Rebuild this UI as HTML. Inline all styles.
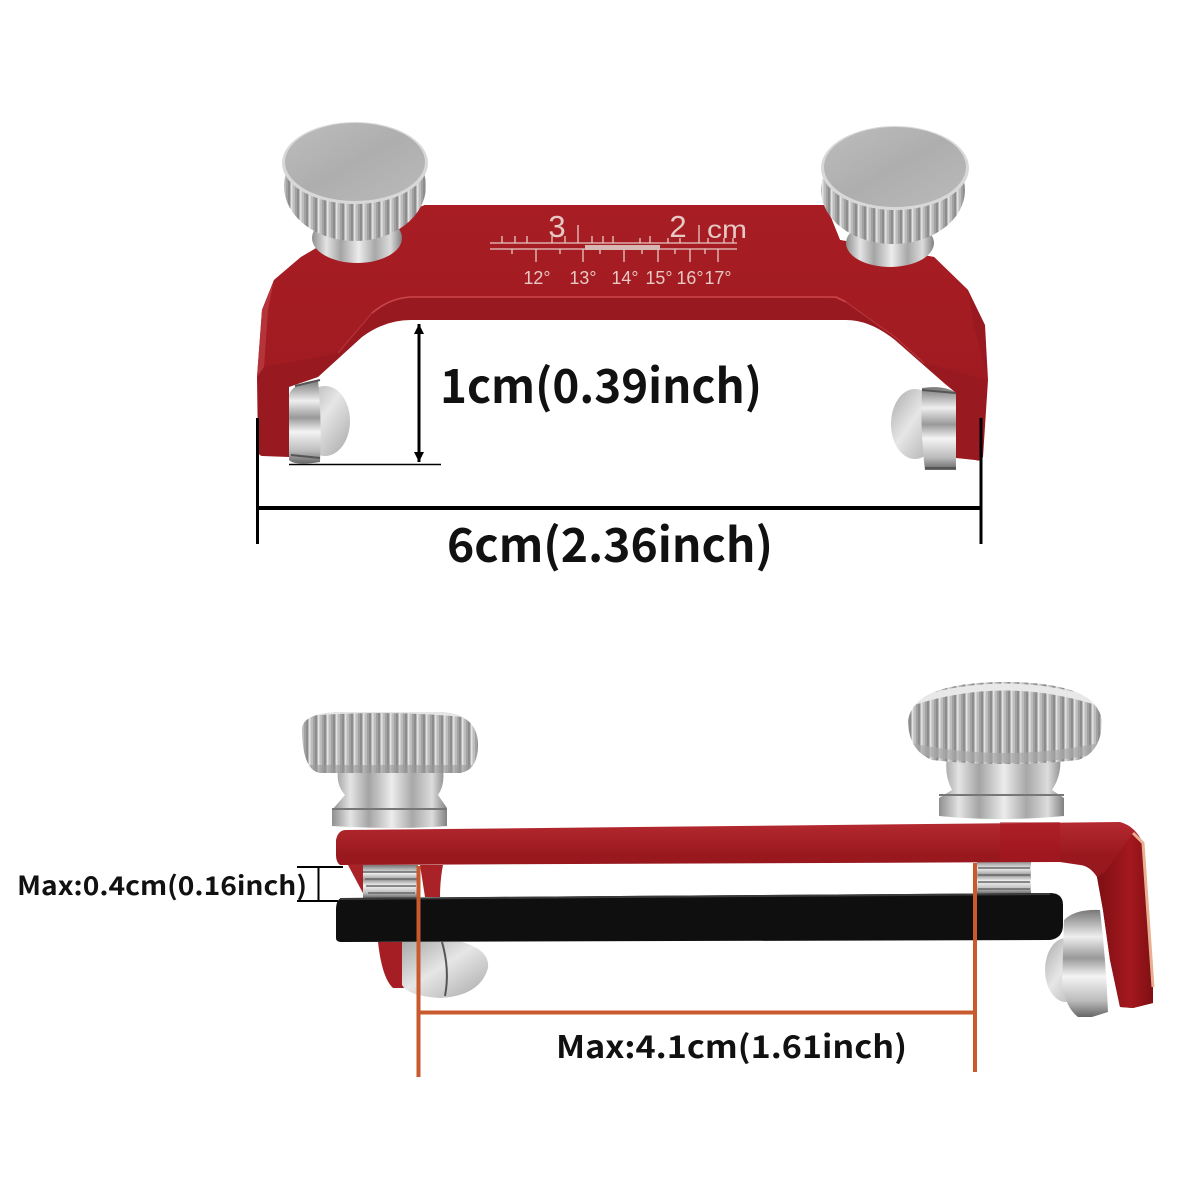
<!DOCTYPE html>
<html lang="en"><head><meta charset="utf-8"><title>Dimension diagram</title>
<style>html,body{margin:0;padding:0;background:#fff}svg{display:block}
.l{font-family:"Noto Sans CJK JP","Liberation Sans",sans-serif;font-weight:700;fill:#111}
.s{font-family:"Liberation Sans",sans-serif;fill:#e6c9c4}</style></head><body>
<svg xmlns="http://www.w3.org/2000/svg" width="1200" height="1200" viewBox="0 0 1200 1200">
<defs>
<linearGradient id="m1" x1="0" x2="1" y1="0" y2="0"><stop offset="0" stop-color="#8f8f8f"/><stop offset=".16" stop-color="#e4e4e4"/><stop offset=".32" stop-color="#a4a4a4"/><stop offset=".52" stop-color="#ececec"/><stop offset=".7" stop-color="#a8a8a8"/><stop offset=".87" stop-color="#dcdcdc"/><stop offset="1" stop-color="#808080"/></linearGradient>
<linearGradient id="m2" x1="0" x2="0" y1="0" y2="1"><stop offset="0" stop-color="#777"/><stop offset=".25" stop-color="#eee"/><stop offset=".45" stop-color="#999"/><stop offset=".62" stop-color="#f4f4f4"/><stop offset=".85" stop-color="#bbb"/><stop offset="1" stop-color="#666"/></linearGradient>
<linearGradient id="m3" x1="0" x2="1" y1="0" y2="1"><stop offset="0" stop-color="#aaa"/><stop offset=".45" stop-color="#e6e6e6"/><stop offset="1" stop-color="#a8a8a8"/></linearGradient>
<linearGradient id="face" x1="0" x2="1" y1="0" y2="1"><stop offset="0" stop-color="#bdbdbd"/><stop offset=".5" stop-color="#aeaeae"/><stop offset="1" stop-color="#bababa"/></linearGradient>
<linearGradient id="redbar" x1="0" x2="0" y1="0" y2="1"><stop offset="0" stop-color="#b52a30"/><stop offset=".18" stop-color="#98181e"/><stop offset="1" stop-color="#8a1218"/></linearGradient>
<linearGradient id="redtop" x1="0" x2="0" y1="0" y2="1"><stop offset="0" stop-color="#a81d24"/><stop offset="1" stop-color="#a01b21"/></linearGradient>
<linearGradient id="redr" x1="0" x2="1" y1="0" y2="0"><stop offset="0" stop-color="#7e0f13"/><stop offset=".6" stop-color="#a4181e"/><stop offset="1" stop-color="#7e0f13"/></linearGradient>
<pattern id="kn" width="9" height="10" patternUnits="userSpaceOnUse"><rect width="9" height="10" fill="#bdbdbd"/><rect x="0" width="2.500" height="10" fill="#8d8d8d"/><rect x="2.500" width="2" height="10" fill="#e2e2e2"/><rect x="7" width="2" height="10" fill="#a2a2a2"/></pattern>
<marker id="ah" markerWidth="10" markerHeight="20" refX="10" refY="5" orient="auto-start-reverse" markerUnits="userSpaceOnUse" viewBox="0 0 10 10"><path d="M0 0L10 5L0 10z" fill="#000"/></marker>
<clipPath id="h1"><path d="M302 728Q304 712 345 712H440Q478 714 478 745Q478 770 460 773H320Q302 770 302 728z"/></clipPath>
<clipPath id="h2"><path d="M908 720Q915 682 1005 682Q1095 682 1102 720Q1102 752 1078 760Q1005 768 932 760Q908 750 908 720z"/></clipPath>
<clipPath id="k1"><ellipse cx="355" cy="186" rx="71" ry="55"/></clipPath>
<clipPath id="k2"><ellipse cx="893" cy="190" rx="72" ry="54"/></clipPath>
</defs>
<rect width="1200" height="1200" fill="#fff"/>

<!-- TOP BRACKET -->
<path d="M425 205H826L840 240L934 257L968 290L985 325L988 380L983 457Q981 462 975 460L956 458V393L944 383L895 340Q870 320 846 320H411Q385 320 362 337L318 377L289 387V457L262 456Q258 455 258 450L257 377L262 310L274 280L301 257L330 240z" fill="#98191f"/>
<path d="M425 205H826L840 240L934 257L968 290L975 330L988 380L924 363L895 337L846 302Q830 297 820 297H411Q390 298 372 313L338 353L264 367L262 310L274 280L301 257L330 240z" fill="url(#redtop)"/>
<path d="M372 313Q390 298 411 297H836L846 302" fill="none" stroke="#c9474a" stroke-width="1.600"/>
<path d="M338 353L372 313M846 302L895 337L924 363" fill="none" stroke="#b5343a" stroke-width="1.200"/>
<path d="M274 280L262 310L257 377L264 367L268 310z" fill="#b5343a"/>
<!-- scale -->
<g stroke="#e6c9c4" stroke-width="1.300" fill="none">
<path d="M490 243H737M490 249H737"/>
<path d="M536 249V262M583 249V262M624 249V262M658 249V262M690 249V262M718 249V262M578 225V243M699 225V243"/>
<path d="M502 236V243M515 236V243M527 236V243M552 236V243M565 236V243M592 236V243M603 236V243M613 236V243M640 238V243M650 236V243M668 238V243M680 238V243M708 238V243M724 238V243M733 238V243M512 249V254M560 249V254M600 249V254M642 249V254M675 249V254M705 249V254"/>
</g>
<rect x="585" y="245" width="75" height="5" fill="#d8b8b4"/>
<text class="s" x="557" y="237" font-size="31" text-anchor="middle">3</text>
<text class="s" x="678" y="237" font-size="31" text-anchor="middle">2</text>
<text class="s" x="727" y="238" font-size="25" text-anchor="middle" textLength="40" lengthAdjust="spacingAndGlyphs">cm</text>
<g class="s" font-size="18" text-anchor="middle">
<text class="s" x="537" y="284" textLength="27" lengthAdjust="spacingAndGlyphs">12°</text>
<text class="s" x="583" y="284" textLength="27" lengthAdjust="spacingAndGlyphs">13°</text>
<text class="s" x="625" y="284" textLength="27" lengthAdjust="spacingAndGlyphs">14°</text>
<text class="s" x="659" y="284" textLength="27" lengthAdjust="spacingAndGlyphs">15°</text>
<text class="s" x="690" y="284" textLength="27" lengthAdjust="spacingAndGlyphs">16°</text>
<text class="s" x="718" y="284" textLength="27" lengthAdjust="spacingAndGlyphs">17°</text>
</g>

<!-- top-left knob -->
<ellipse cx="357" cy="238" rx="45" ry="25" fill="url(#m1)"/>
<g clip-path="url(#k1)"><rect x="280" y="130" width="150" height="115" fill="url(#kn)"/></g>
<ellipse cx="355" cy="163" rx="73" ry="41" fill="#d8d8d8"/>
<ellipse cx="355" cy="162" rx="70" ry="39" fill="url(#face)"/>
<!-- top-right knob -->
<ellipse cx="890" cy="243" rx="44" ry="24" fill="url(#m1)"/>
<g clip-path="url(#k2)"><rect x="818" y="130" width="150" height="118" fill="url(#kn)"/></g>
<ellipse cx="895" cy="168" rx="74" ry="42" fill="#d8d8d8"/>
<ellipse cx="895" cy="167" rx="71" ry="40" fill="url(#face)"/>

<!-- top bearings -->
<ellipse cx="325" cy="421" rx="25" ry="35" fill="url(#m3)"/>
<path d="M289 395Q292 383 318 380Q322 420 320 462Q295 466 289 460z" fill="url(#m2)"/>
<path d="M295 386L320 380M291 455L320 458" stroke="#555" stroke-width="2" fill="none"/>
<ellipse cx="915" cy="424" rx="24" ry="35" fill="url(#m3)"/>
<path d="M922 388Q945 385 956 393V470H925Q920 430 922 388z" fill="url(#m2)"/>
<path d="M922 390L956 393M925 468H956" stroke="#555" stroke-width="2" fill="none"/>

<!-- top dims -->
<path d="M258 508H980" stroke="#000" stroke-width="4"/>
<path d="M257.500 418V544M981 418V544" stroke="#000" stroke-width="3"/>
<path d="M289 464.500H441" stroke="#000" stroke-width="1.600"/>
<path d="M419 324V462" stroke="#000" stroke-width="3" marker-start="url(#ah)" marker-end="url(#ah)"/>
<text class="l" x="440" y="403" font-size="47" textLength="322" lengthAdjust="spacingAndGlyphs">1cm(0.39inch)</text>
<text class="l" x="447" y="562" font-size="47" textLength="326" lengthAdjust="spacingAndGlyphs">6cm(2.36inch)</text>

<!-- BOTTOM: threads + small red legs -->
<path d="M348 865L365 897H385V865z" fill="#a82228"/>
<path d="M420 865L443 865Q440 880 440 897H425z" fill="#a82228"/>
<rect x="363" y="865" width="55" height="33" fill="url(#m2)"/>
<rect x="977" y="860" width="54" height="34" fill="url(#m2)"/>
<g stroke="#666" stroke-width="1.500"><path d="M363 872H418M365 879H417M366 886H416M368 893H415M978 868H1030M978 875H1030M978 882H1030M978 889H1030"/></g>

<!-- bottom left bolt -->
<path d="M378 942Q382 978 393 988H410L405 942z" fill="#a51e24"/>
<path d="M402 942H462Q490 950 488 968Q480 996 440 998Q408 996 402 985z" fill="url(#m3)"/>
<path d="M442 942Q450 970 445 996" stroke="#555" stroke-width="2" fill="none"/>

<!-- black bar -->
<path d="M342 898Q336 899 336 910V938Q336 942 342 942L1050 940Q1063 938 1063 925V905Q1063 893 1050 893z" fill="#0f0f0f"/>
<path d="M340 899L1050 894" stroke="#3a3a3a" stroke-width="2"/>

<!-- red bar -->
<path d="M346 830L1120 822Q1135 826 1143 843L1153 987V1003L1133 1008L1120 1007L1110 960L1103 910L1097 877Q1090 866 1080 865L1060 862L340 865Q336 862 336 855V840Q338 830 346 830z" fill="url(#redbar)"/>
<path d="M1097 877L1105 872L1133 833L1143 843L1153 987V1003L1133 1008L1120 1007L1110 960L1103 910z" fill="url(#redr)"/>
<path d="M1000 822H1060V862H1000z" fill="#a8161f" opacity=".5"/>
<path d="M1133 833L1143 843L1153 987" stroke="#e8b090" stroke-width="3" fill="none"/>

<!-- right bearing -->
<ellipse cx="1066" cy="970" rx="21" ry="32" fill="url(#m3)"/>
<path d="M1064 920Q1075 909 1100 910Q1106 960 1108 1012L1092 1017H1078Q1066 1008 1062 985z" fill="url(#m2)"/>

<!-- left knob side -->
<path d="M338 770H443Q445 785 438 795L447 808V826Q400 830 332 826V810L345 795Q336 785 338 770z" fill="url(#m1)"/>
<path d="M332 809H447" stroke="#777" stroke-width="2"/>
<g clip-path="url(#h1)"><rect x="300" y="710" width="180" height="65" fill="url(#kn)"/><path d="M300 714Q390 706 478 716" stroke="#e6e6e6" stroke-width="5" fill="none"/><path d="M300 769H480" stroke="#9a9a9a" stroke-width="8" opacity=".6"/></g>
<!-- right knob side -->
<path d="M947 757H1060Q1062 775 1052 790L1064 798V816Q1000 822 939 816V798L952 790Q944 775 947 757z" fill="url(#m1)"/>
<path d="M939 795H1064" stroke="#777" stroke-width="2"/>
<g clip-path="url(#h2)"><rect x="905" y="680" width="200" height="85" fill="url(#kn)"/><path d="M912 702Q1005 672 1098 702" stroke="#e8e8e8" stroke-width="7" fill="none"/><path d="M910 748Q1005 768 1100 748" stroke="#a8a8a8" stroke-width="10" fill="none" opacity=".7"/></g>

<!-- orange dims -->
<g stroke="#c85a2e" fill="none"><path d="M418.500 866V1077" stroke-width="4"/><path d="M975 863V1072" stroke-width="4"/><path d="M420 1012.500H975" stroke-width="4"/></g>
<!-- small dim -->
<path d="M297 867H343M297 901H338M318.500 867V901" stroke="#000" stroke-width="2" fill="none"/>
<text class="l" x="17" y="895" font-size="26" textLength="290" lengthAdjust="spacingAndGlyphs">Max:0.4cm(0.16inch)</text>
<text class="l" x="556" y="1058" font-size="31" textLength="351" lengthAdjust="spacingAndGlyphs">Max:4.1cm(1.61inch)</text>
</svg>
</body></html>
